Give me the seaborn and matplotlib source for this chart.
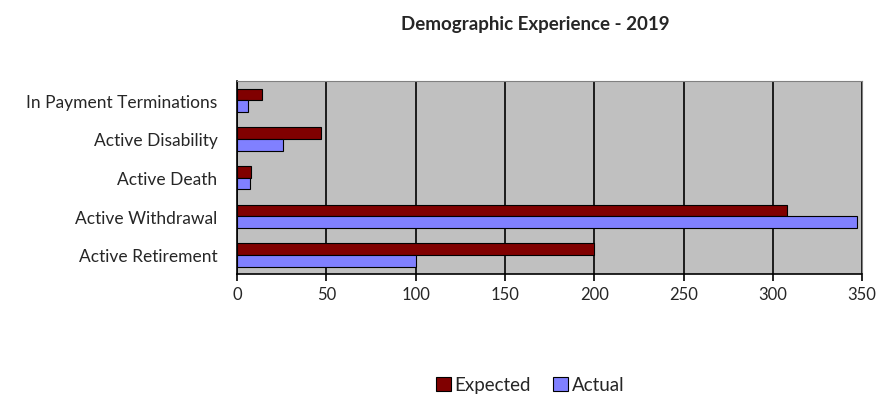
import pandas as pd
import numpy as np
import matplotlib
matplotlib.use("Agg")
import matplotlib.pyplot as plt
import seaborn as sns
from matplotlib.ticker import FixedLocator

# Datos
categorias = ["In Payment Terminations", "Active Disability", "Active Death",
              "Active Withdrawal", "Active Retirement"]
esperado = [14, 47, 8, 308, 200]
real = [6, 26, 7, 347, 100]
series = ["Expected", "Actual"]
colores = {"Expected": "#800000", "Actual": "#8080FF"}

df = pd.DataFrame({
    "Decrement": categorias * 2,
    "Count": esperado + real,
    "Serie": ["Expected"] * len(categorias) + ["Actual"] * len(categorias),
})

sns.set_style("white")
plt.rcParams["font.family"] = ["Lato", "DejaVu Sans"]

fig = plt.figure(figsize=(8.78, 4.06), dpi=100)
ax = fig.add_axes([0.27, 0.322, 0.712, 0.476])
ax.set_facecolor("#C0C0C0")

sns.barplot(data=df, y="Decrement", x="Count", hue="Serie", order=categorias,
            hue_order=series, palette=colores, orient="h", width=0.6,
            saturation=1, edgecolor="black", linewidth=0.8, ax=ax, legend=True)

ax.set_xlim(0, 350)
ax.set_xticks(range(0, 351, 50))
ax.xaxis.grid(True, color="black", linewidth=1.2)
ax.set_axisbelow(True)
ax.set_ylim(len(categorias) - 0.5, -0.5)
ax.yaxis.set_minor_locator(FixedLocator(np.arange(-0.5, len(categorias), 1)))
ax.tick_params(axis="y", which="major", length=0, labelsize=12.5, pad=14)
ax.tick_params(axis="y", which="minor", length=5, width=1.2, color="black")
ax.tick_params(axis="x", length=5, width=1.2, color="black", labelsize=12, bottom=True)
for lado in ["top", "right"]:
    ax.spines[lado].set_color("#808080")
for lado in ["left", "bottom"]:
    ax.spines[lado].set_color("black")
    ax.spines[lado].set_linewidth(1.2)
ax.set_xlabel("")
ax.set_ylabel("")

fig.suptitle("Demographic Experience - 2019", x=0.61, y=0.96,
             fontsize=13.5, fontweight="bold")

handles, labels = ax.get_legend_handles_labels()
ax.legend(handles, labels, loc="center", bbox_to_anchor=(0.604, 0.05),
          bbox_transform=fig.transFigure, ncol=2, frameon=False, fontsize=13.5,
          handlelength=0.8, handleheight=0.8, handletextpad=0.2, columnspacing=1.2)

fig.savefig("out.png", dpi=100, facecolor="white")
